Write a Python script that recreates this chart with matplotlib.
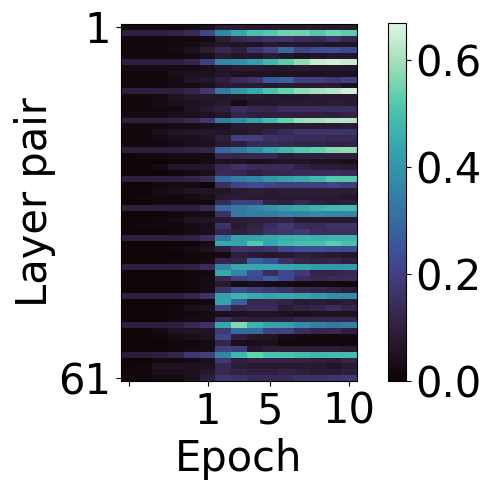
import matplotlib
matplotlib.use('Agg')
import matplotlib.pyplot as plt
import numpy as np
import seaborn as sns

# one list per layer pair, one value per epoch column
similarity = [
    [.02, .02, .02, .02, .03, .04, .09, .09, .08, .08, .08, .08, .08, .08, .08],
    [.10, .10, .10, .11, .14, .22, .36, .44, .50, .52, .55, .55, .52, .55, .53],
    [.02, .02, .02, .02, .02, .03, .09, .13, .15, .16, .17, .15, .14, .17, .13],
    [.02, .02, .02, .02, .03, .05, .07, .06, .05, .08, .07, .07, .07, .06, .06],
    [.02, .02, .02, .03, .05, .09, .13, .10, .17, .21, .30, .21, .24, .24, .22],
    [.02, .02, .02, .02, .03, .04, .08, .07, .07, .09, .07, .05, .06, .07, .07],
    [.10, .10, .10, .10, .12, .20, .36, .38, .42, .48, .53, .58, .64, .65, .64],
    [.03, .03, .03, .03, .03, .04, .07, .08, .08, .07, .07, .08, .07, .07, .07],
    [.02, .02, .02, .04, .05, .05, .07, .05, .05, .05, .05, .05, .05, .05, .05],
    [.02, .02, .02, .03, .06, .07, .10, .14, .17, .26, .28, .20, .20, .18, .20],
    [.02, .02, .02, .03, .03, .04, .08, .08, .08, .07, .08, .08, .08, .08, .05],
    [.10, .10, .10, .10, .12, .18, .33, .40, .45, .50, .54, .58, .60, .62, .65],
    [.02, .02, .03, .05, .07, .07, .07, .07, .08, .07, .07, .07, .08, .08, .08],
    [.02, .02, .03, .04, .05, .06, .08, .03, .07, .07, .08, .08, .08, .09, .08],
    [.02, .02, .02, .03, .05, .08, .10, .15, .13, .12, .15, .15, .15, .15, .15],
    [.03, .03, .03, .04, .04, .05, .07, .12, .10, .10, .10, .10, .10, .10, .11],
    [.10, .10, .10, .11, .13, .18, .34, .38, .43, .49, .54, .59, .60, .62, .62],
    [.02, .02, .02, .03, .03, .04, .05, .08, .08, .08, .08, .08, .08, .08, .09],
    [.02, .02, .04, .06, .07, .07, .06, .07, .08, .11, .14, .16, .16, .17, .17],
    [.02, .02, .03, .04, .04, .06, .10, .20, .20, .16, .15, .14, .14, .13, .13],
    [.02, .02, .02, .03, .04, .05, .08, .10, .14, .14, .13, .12, .12, .11, .11],
    [.10, .10, .10, .10, .11, .12, .29, .33, .38, .44, .48, .52, .54, .57, .58],
    [.01, .02, .02, .03, .03, .02, .13, .12, .13, .13, .09, .10, .10, .10, .10],
    [.01, .01, .01, .02, .02, .03, .05, .05, .04, .05, .06, .06, .05, .05, .04],
    [.01, .01, .03, .07, .07, .07, .13, .16, .14, .14, .14, .11, .09, .09, .08],
    [.01, .01, .01, .02, .03, .04, .14, .13, .10, .12, .13, .14, .14, .15, .14],
    [.10, .10, .10, .10, .11, .14, .30, .34, .36, .40, .43, .45, .48, .52, .52],
    [.01, .01, .02, .03, .03, .01, .15, .21, .23, .21, .20, .20, .20, .21, .19],
    [.01, .01, .03, .04, .06, .06, .06, .08, .09, .08, .09, .09, .09, .09, .09],
    [.01, .02, .02, .02, .03, .04, .08, .09, .08, .08, .08, .08, .08, .08, .07],
    [.01, .01, .02, .02, .02, .02, .14, .20, .20, .11, .10, .13, .10, .09, .10],
    [.10, .10, .10, .10, .10, .13, .30, .33, .36, .39, .42, .44, .47, .48, .49],
    [.01, .01, .01, .02, .03, .03, .16, .33, .34, .34, .36, .36, .37, .36, .36],
    [.01, .01, .02, .03, .05, .06, .08, .09, .10, .10, .11, .08, .08, .08, .08],
    [.01, .02, .02, .02, .03, .04, .16, .08, .11, .15, .18, .14, .14, .16, .16],
    [.01, .01, .01, .02, .03, .04, .12, .10, .12, .16, .17, .18, .15, .15, .15],
    [.10, .10, .10, .10, .11, .15, .33, .43, .43, .44, .46, .47, .46, .47, .47],
    [.01, .01, .01, .01, .01, .03, .44, .43, .52, .44, .48, .50, .50, .53, .50],
    [.01, .01, .01, .02, .03, .05, .10, .17, .16, .17, .22, .24, .24, .23, .23],
    [.01, .01, .01, .01, .02, .02, .03, .10, .08, .07, .08, .10, .09, .08, .07],
    [.01, .01, .01, .02, .02, .03, .12, .12, .28, .24, .16, .12, .11, .12, .10],
    [.10, .10, .10, .10, .11, .14, .36, .44, .44, .44, .44, .43, .41, .41, .41],
    [.01, .01, .01, .01, .02, .02, .44, .36, .24, .15, .22, .18, .12, .12, .13],
    [.01, .01, .01, .01, .02, .03, .13, .20, .22, .28, .22, .15, .13, .14, .14],
    [.01, .01, .01, .01, .02, .03, .08, .03, .04, .03, .03, .02, .02, .02, .02],
    [.01, .01, .01, .01, .02, .03, .16, .23, .20, .18, .16, .13, .12, .11, .09],
    [.10, .10, .10, .10, .12, .16, .42, .47, .45, .43, .44, .43, .41, .38, .37],
    [.01, .01, .01, .01, .02, .02, .43, .28, .13, .13, .11, .08, .09, .08, .09],
    [.01, .01, .01, .02, .04, .05, .20, .12, .14, .14, .09, .11, .12, .15, .12],
    [.01, .01, .01, .02, .02, .03, .04, .05, .06, .06, .05, .04, .05, .05, .05],
    [.01, .01, .01, .02, .03, .03, .14, .10, .10, .10, .10, .12, .12, .12, .12],
    [.10, .10, .10, .10, .13, .16, .44, .57, .47, .43, .42, .38, .35, .33, .34],
    [.01, .01, .03, .05, .06, .06, .18, .30, .30, .20, .20, .15, .12, .13, .10],
    [.01, .01, .02, .03, .04, .05, .22, .10, .07, .06, .03, .02, .02, .02, .02],
    [.01, .01, .01, .02, .02, .03, .12, .04, .04, .04, .02, .02, .02, .02, .02],
    [.01, .01, .01, .02, .03, .03, .20, .19, .07, .09, .09, .09, .09, .09, .08],
    [.09, .09, .10, .12, .18, .20, .36, .48, .54, .50, .50, .49, .48, .49, .49],
    [.01, .01, .02, .02, .03, .04, .18, .10, .11, .11, .11, .11, .10, .09, .12],
    [.01, .02, .05, .05, .05, .05, .13, .09, .08, .08, .08, .08, .08, .06, .08],
    [.02, .02, .04, .04, .05, .07, .13, .11, .10, .10, .11, .10, .08, .08, .10],
    [.02, .02, .03, .03, .04, .10, .17, .16, .14, .14, .14, .16, .16, .17, .18],
]
x_positions = [0, 5, 9, 14]
x_labels = ['', '1', '5', '10']
y_positions = [0, 60]
y_labels = ['1', '61']
cbar_ticks = [0.0, 0.2, 0.4, 0.6]


def main():
    data = np.array(similarity)
    fig = plt.figure(figsize=(4.9, 4.91), dpi=100)
    ax = fig.add_axes([121 / 490, 1 - 381 / 491, 236 / 490, 357 / 491])
    cax = fig.add_axes([388 / 490, 1 - 381 / 491, 18 / 490, 358 / 491])

    im = ax.imshow(data, cmap=sns.color_palette('mako', as_cmap=True),
                   vmin=0, vmax=0.67, aspect='auto', interpolation='nearest')
    ax.set_xticks(x_positions, x_labels, fontsize=30)
    ax.set_yticks(y_positions, y_labels, fontsize=30)
    ax.set_xlabel('Epoch', fontsize=30, labelpad=4)
    ax.set_ylabel('Layer pair', fontsize=30, labelpad=2)

    cbar = fig.colorbar(im, cax=cax)
    cbar.set_ticks(cbar_ticks)
    cbar.ax.tick_params(labelsize=30)

    fig.savefig('out.png', dpi=100)


if __name__ == "__main__":
    main()
